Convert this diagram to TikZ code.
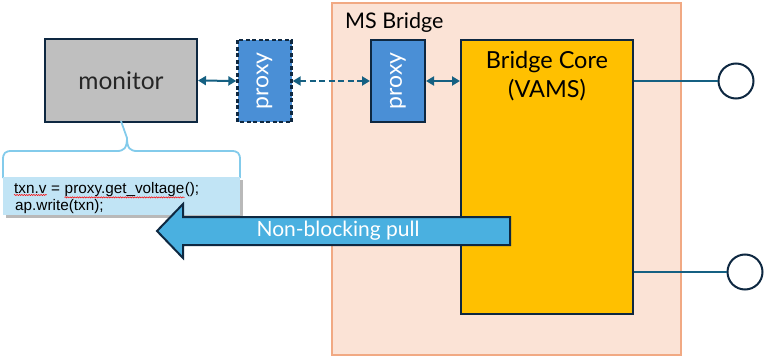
\documentclass[tikz,border=0pt]{standalone}
\usepackage{fontspec}
\setmainfont{Lato}
\newfontfamily\codefont{Liberation Sans}
\usetikzlibrary{arrows.meta,shadows,decorations.pathmorphing}

\definecolor{navy}{HTML}{0E2841}
\definecolor{link}{HTML}{156082}
\definecolor{peach}{HTML}{FBE3D6}
\definecolor{salmon}{HTML}{F1A983}
\definecolor{corey}{HTML}{FFC000}
\definecolor{proxyblue}{HTML}{4A8FD6}
\definecolor{pullblue}{HTML}{4AB0E0}
\definecolor{bracecol}{HTML}{83CBEB}
\definecolor{codebg}{HTML}{C1E4F5}
\definecolor{mongray}{HTML}{BFBFBF}

\tikzset{
  box/.style={draw=navy, line width=2pt, inner sep=0pt},
  % rotated box: width runs along the (vertical) text direction
  proxybox/.style={box, fill=proxyblue, minimum width=82pt, minimum height=54pt,
    font=\fontsize{23}{25}\selectfont, text=white, rotate=90},
  biarrow/.style={draw=link, line width=2pt,
    {Triangle[length=8pt,width=9pt]}-{Triangle[length=8pt,width=9pt]}},
  port/.style={circle, draw=navy, line width=2pt, fill=white, minimum size=35pt, inner sep=0pt},
  wire/.style={draw=link, line width=1.4pt},
  codetxt/.style={font=\codefont\fontsize{15.3}{17}\selectfont, inner sep=0pt, anchor=base west},
  squiggle/.style={draw=red, line width=0.5pt, decorate,
    decoration={snake, segment length=2.4pt, amplitude=0.6pt}}
}

\begin{document}
\begin{tikzpicture}[x=1pt, y=-1pt]
\useasboundingbox (0,0) rectangle (764,356);

% MS Bridge container
\node[draw=salmon, fill=peach, line width=2pt, minimum width=349pt, minimum height=352pt,
  inner sep=0pt] (bridge) at (506.5,179) {};
\node[anchor=base west, inner sep=0pt, font=\fontsize{21.5}{23}\selectfont, text=black]
  (bridgetitle) at (345,28) {MS Bridge};

% Bridge core
\node[box, fill=corey, minimum width=172pt, minimum height=274pt] (core) at (547,177) {};
\node[anchor=base, inner sep=0pt, align=center, font=\fontsize{23.5}{29}\selectfont, text=black]
  (coretitle) at (547,97) {Bridge Core\\(VAMS)};

% Monitor and proxies
\node[box, fill=mongray, minimum width=152pt, minimum height=83pt,
  font=\fontsize{24.5}{26}\selectfont, text=black!85] (monitor) at (121,80.5) {monitor};
\node[proxybox, dash pattern=on 4pt off 2.5pt, line width=2.4pt] (proxyA) at (264.5,81) {proxy};
\node[proxybox] (proxyB) at (398,81) {proxy};

% Links between monitor, proxies and core
\draw[biarrow] (monitor.east) -- (proxyA.north);
\draw[biarrow, dash pattern=on 6pt off 3.5pt] (proxyA.south) -- (proxyB.north);
\draw[biarrow] (proxyB.south) -- (core.west |- proxyB.south);

% Output ports
\node[port] (portA) at (736,81) {};
\node[port] (portB) at (745,272) {};
\draw[wire] (core.east |- portA.west) -- (portA.west);
\draw[wire] (core.east |- portB.west) -- (portB.west);

% Brace under the monitor
\draw[bracecol, line width=1.8pt, line join=round]
  (3,178) -- (3,160) .. controls (3,153) and (5,151) .. (12,151)
  -- (117,151) .. controls (124,151) and (127,148) .. (127,138) -- ([yshift=2pt]monitor.south);
\draw[bracecol, line width=1.8pt, line join=round]
  (127,138) .. controls (127,148) and (130,151) .. (137,151)
  -- (231,151) .. controls (238,151) and (240,153) .. (240,160) -- (240,178);

% Code snippet
\node[fill=codebg, minimum width=237pt, minimum height=38pt, inner sep=0pt,
  drop shadow={shadow xshift=3pt, shadow yshift=-3pt, opacity=0.5, fill=black!55}]
  (code) at (121.5,196) {};
\node[codetxt] (c1) at (14,193) {txn.v};
\node[codetxt] (c2) at (c1.base east) {\ =\ \mbox{}};
\node[codetxt] (c3) at (c2.base east) {proxy.get\_voltage};
\node[codetxt] (c4) at (c3.base east) {();};
\node[codetxt] (c5) at (15,210.5) {ap.write(txn);};
\draw[squiggle] ([yshift=-2pt]c1.base west) -- ([yshift=-2pt]c1.base east);
\draw[squiggle] ([yshift=-1pt]c3.south west) -- ([yshift=-1pt]c3.south east);

% Non-blocking pull arrow
\draw[draw=navy, fill=pullblue, line width=2pt, line join=miter]
  (510,217) -- (183,217) -- (183,204) -- (157,231) -- (183,258) -- (183,245) -- (510,245) -- cycle;
\node[font=\fontsize{21}{22}\selectfont, text=white, inner sep=0pt] (pull) at (338,231)
  {Non-blocking pull};
\end{tikzpicture}
\end{document}
